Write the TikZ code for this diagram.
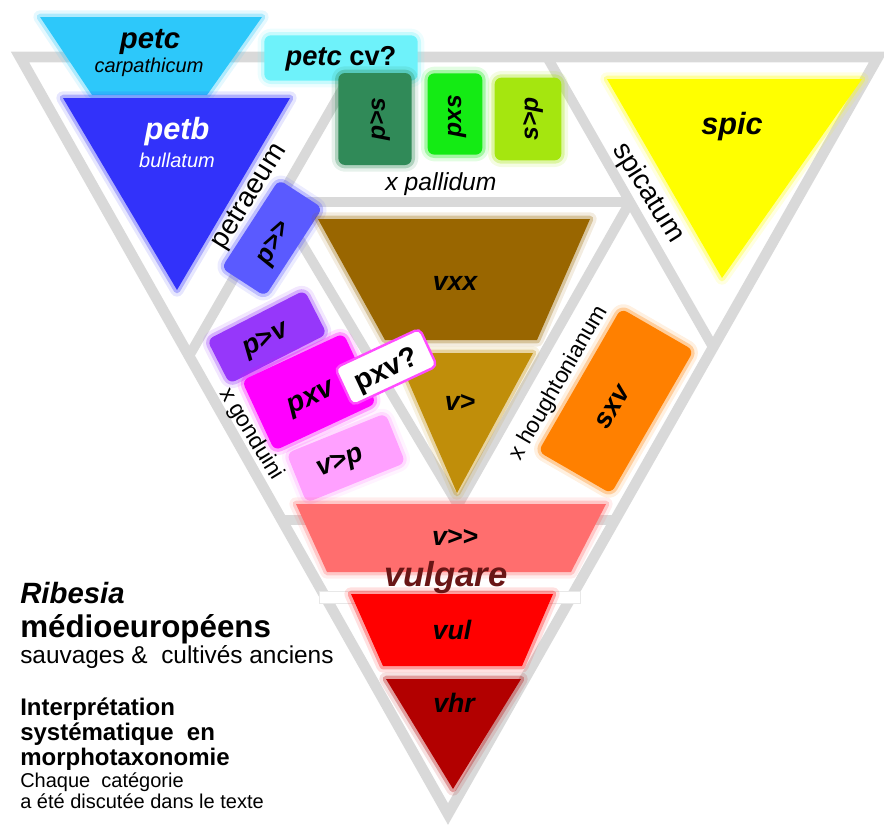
\documentclass[tikz,border=0pt]{standalone}
\usepackage{fontspec}
\setmainfont{Liberation Sans}
\definecolor{lgray}{RGB}{217,217,217}
\definecolor{cpetc}{RGB}{45,200,250}
\definecolor{ccv}{RGB}{110,242,250}
\definecolor{cpetb}{RGB}{50,50,250}
\definecolor{cpgg}{RGB}{90,90,255}
\definecolor{cps}{RGB}{48,138,88}
\definecolor{cpxs}{RGB}{20,235,20}
\definecolor{csp}{RGB}{165,230,15}
\definecolor{cspic}{RGB}{255,255,0}
\definecolor{cvxx}{RGB}{153,102,0}
\definecolor{cvg}{RGB}{192,142,10}
\definecolor{cpv}{RGB}{150,55,250}
\definecolor{cpxv}{RGB}{255,0,255}
\definecolor{cvp}{RGB}{255,160,255}
\definecolor{csxv}{RGB}{255,128,0}
\definecolor{cvgg}{RGB}{255,110,110}
\definecolor{cvul}{RGB}{255,0,0}
\definecolor{cvhr}{RGB}{178,0,0}
\definecolor{cvulg}{RGB}{105,22,22}
\begin{document}
\begin{tikzpicture}[x=0.75pt,y=-0.75pt,
  gline/.style={draw=lgray, line width=7.5pt},
  soft/.style={fill=#1, draw=#1, draw opacity=0.3, line width=5pt, line join=round,
    preaction={draw=#1, draw opacity=0.12, line width=10pt, line join=round}},
  blab/.style={font=\bfseries\itshape\fontsize{#1}{#1}\selectfont, inner sep=0pt},
  ilab/.style={font=\itshape\fontsize{#1}{#1}\selectfont, inner sep=0pt},
  rlab/.style={font=\fontsize{#1}{#1}\selectfont, inner sep=0pt},
  rbox/.style={rectangle, rounded corners=5pt, inner sep=0pt}]
\useasboundingbox (0,0) rectangle (884,828);
% structure coordinates
\coordinate (TL) at (20,57);
\coordinate (TR) at (878,57);
\coordinate (B) at (448,814);
\coordinate (PB1) at (361,57);
\coordinate (PB2) at (189,356);
\coordinate (SP1) at (547,57);
\coordinate (SP2) at (713,347);
\coordinate (H1) at (277,202);
\coordinate (H2) at (630,202);
\coordinate (V) at (458,505);
\coordinate (L1) at (282,520);
\coordinate (L2) at (615,520);
% grey frame
\draw[gline, line width=8pt] (TL) -- (TR) -- (B) -- cycle;
\draw[gline] (PB1) -- (PB2);
\draw[gline] (SP1) -- (SP2);
\draw[gline] (H1) -- (H2);
\draw[gline] (H1) -- (V) -- (H2);
\draw[gline] (L1) -- (L2);
% petraeum corner
\path[soft=cpetc] (40,17) -- (262,17) -- (207,95) -- (92,95) -- cycle;
\node[rbox, soft=ccv, minimum width=115pt, minimum height=34pt] (cvbox) at (341,58) {};
\path[soft=cpetb] (63,98) -- (290,98) -- (177,290) -- cycle;
\node[rbox, soft=cpgg, minimum width=79pt, minimum height=39pt, rotate=57] (pgg) at (272,238) {};
% pallidum
\node[rbox, soft=cps, minimum width=55pt, minimum height=69pt] (ps) at (375,119) {};
\node[rbox, soft=cpxs, minimum width=41pt, minimum height=61pt] (pxs) at (455,114) {};
\node[rbox, soft=csp, minimum width=50pt, minimum height=62pt] (sp) at (528,119) {};
% spicatum
\path[soft=cspic] (607,79) -- (862,79) -- (722,278) -- cycle;
% vxx
\path[soft=cvxx] (318,219) -- (590,219) -- (537,340) -- (385,340) -- cycle;
\path[soft=cvg] (396,353) -- (533,353) -- (457,493) -- cycle;
% gonduini
\node[rbox, soft=cpv, minimum width=82pt, minimum height=37pt, rotate=27] (pv) at (267,337) {};
\node[rbox, soft=cvp, minimum width=80pt, minimum height=40pt, rotate=22] (vp) at (346,458) {};
\node[rbox, soft=cpxv, minimum width=84pt, minimum height=58pt, rotate=25] (pxv) at (309,392) {};
\node[rectangle, rounded corners=4pt, fill=white, draw=cpxv!70, line width=1.8pt, minimum width=70pt, minimum height=31pt, rotate=25] (pxvq) at (386,367) {};
% houghtonianum
\node[rbox, soft=csxv, minimum width=124pt, minimum height=63pt, rotate=60] (sxv) at (616,401) {};
% vulgare
\path[soft=cvgg] (296,504) -- (606,504) -- (571,572) -- (327,572) -- cycle;
\node[rectangle, fill=white, draw=lgray!60, line width=0.6pt, minimum width=196pt, minimum height=8.5pt, inner sep=0pt] (wbar) at (450,597.5) {};
\path[soft=cvul] (351,594) -- (553,594) -- (522,666) -- (383,666) -- cycle;
\path[soft=cvhr] (386,679) -- (521,679) -- (453,789) -- cycle;
% labels in shapes
\node[blab=22] (tpetc) at (150,42) {petc};
\node[ilab=15] (tcarp) at (149,67) {carpathicum};
\node[blab=23, text=white] (tpetb) at (177,132) {petb};
\node[ilab=15, text=white] (tbull) at (177,160) {bullatum};
\node[font=\bfseries\fontsize{20.5}{20.5}\selectfont, inner sep=0pt] (tcv) at (341,59) {\textit{petc} cv?};
\node[blab=18.5, rotate=90] (tps) at (380,119) {p>s};
\node[blab=18.5, rotate=90] (tpxs) at (457,116) {pxs};
\node[blab=18.5, rotate=90] (tsp) at (533,119) {s>p};
\node[blab=23] (tspic) at (732,127) {spic};
\node[blab=19.5, rotate=62] (tpgg) at (275,244) {p>\kern0pt>};
\node[blab=20] (tvxx) at (455,283) {vxx};
\node[blab=20] (tvg) at (460,402) {v>};
\node[blab=20.5, rotate=27] (tpv) at (266,341) {p>v};
\node[blab=21.5, rotate=25] (tpxv) at (312,400) {pxv};
\node[blab=20.5, rotate=22] (tvp) at (341,463) {v>p};
\node[font=\bfseries\fontsize{21.5}{21.5}\selectfont, inner sep=0pt, rotate=25] (tpxvq) at (387,371) {pxv?};
\node[blab=20.5, rotate=60] (tsxv) at (613,407) {sxv};
\node[blab=20] (tvgg) at (455,537) {v>\kern0pt>};
\node[blab=26, text=cvulg] (tvulg) at (446,578) {vulgare};
\node[blab=20] (tvul) at (452,630) {vul};
\node[blab=20] (tvhr) at (454,703) {vhr};
% labels along lines
\node[rlab=21, rotate=58] (tpetr) at (250,197) {petraeum};
\node[rlab=21, rotate=-58] (tspica) at (648,193) {spicatum};
\node[ilab=18.5] (tpall) at (441,184) {x pallidum};
\node[rlab=17, rotate=60] (thou) at (559,383) {x houghtonianum};
\node[rlab=17, rotate=-58.5] (tgon) at (251,434) {x gonduini};
% caption
\node[anchor=base west, inner sep=0pt, font=\bfseries\itshape\fontsize{22}{22}\selectfont] (c1) at (20,603) {Ribesia};
\node[anchor=base west, inner sep=0pt, font=\bfseries\fontsize{23.5}{23.5}\selectfont] (c2) at (20,637) {médioeuropéens};
\node[anchor=base west, inner sep=0pt, font=\fontsize{18.3}{18.3}\selectfont] (c3) at (20,663) {sauvages \& \ cultivés anciens};
\node[anchor=base west, inner sep=0pt, font=\bfseries\fontsize{18}{18}\selectfont] (c4) at (20,715) {Interprétation};
\node[anchor=base west, inner sep=0pt, font=\bfseries\fontsize{18}{18}\selectfont] (c5) at (20,740) {systématique \ en};
\node[anchor=base west, inner sep=0pt, font=\bfseries\fontsize{18}{18}\selectfont] (c6) at (20,765) {morphotaxonomie};
\node[anchor=base west, inner sep=0pt, font=\fontsize{15}{15}\selectfont] (c7) at (20,787) {Chaque \ catégorie};
\node[anchor=base west, inner sep=0pt, font=\fontsize{15}{15}\selectfont] (c8) at (20,808) {a été discutée dans le texte};
\end{tikzpicture}
\end{document}
